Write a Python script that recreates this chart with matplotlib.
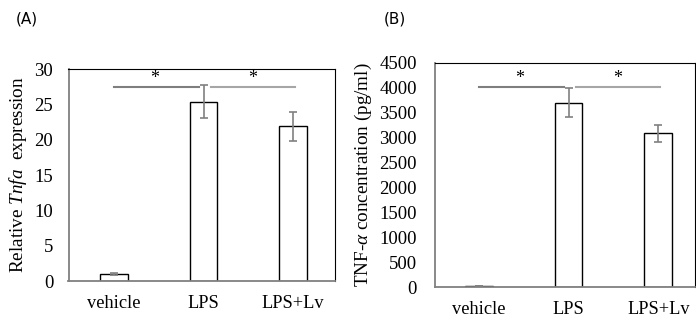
import matplotlib
matplotlib.use('Agg')
import matplotlib.pyplot as plt

plt.rcParams['font.family'] = 'Liberation Serif'
plt.rcParams['mathtext.fontset'] = 'custom'
plt.rcParams['mathtext.rm'] = 'Liberation Serif'
plt.rcParams['mathtext.it'] = 'Liberation Serif:italic'

# data
groups = ['vehicle', 'LPS', 'LPS+Lv']
tnfa_rel = [1.0, 25.4, 21.9]
tnfa_rel_err = [0.1, 2.3, 2.05]
tnf_conc = [20, 3700, 3080]
tnf_conc_err = [5, 285, 165]
sig_a = 27.45
sig_b = 4010

fig = plt.figure(figsize=(6.96, 3.2), dpi=100)

def draw_panel(ax, vals, errs, sig_y, ymax, step, ylabel, xlim, pad):
    x = range(len(groups))
    ax.bar(x, vals, width=0.31, color='white', edgecolor='black', linewidth=1.0, zorder=2)
    ax.errorbar(x, vals, yerr=errs, fmt='none', ecolor='#808080', elinewidth=1.2,
                capsize=3, capthick=1.2, zorder=3)
    ax.set_xlim(*xlim)
    ax.set_ylim(0, ymax)
    ax.set_yticks(range(0, ymax + 1, step))
    ax.set_xticks(list(x))
    ax.set_xticklabels(groups)
    ax.tick_params(axis='y', length=0, pad=pad, labelsize=13.5)
    ax.tick_params(axis='x', length=0, pad=10, labelsize=13.2)
    ax.set_ylabel(ylabel, fontsize=13.8, labelpad=4)
    for s in ['top', 'right']:
        ax.spines[s].set_color('black')
    for s in ['left', 'bottom']:
        ax.spines[s].set_color('#808080')
        ax.spines[s].set_linewidth(1.3)
    # significance lines
    ax.plot([0, 0.95], [sig_y, sig_y], color='#7f7f7f', lw=1.5, zorder=1)
    ax.plot([1.08, 2.02], [sig_y, sig_y], color='#a6a6a6', lw=1.5, zorder=1)
    ax.text(0.45, sig_y, '*', ha='center', va='bottom', fontsize=13)
    ax.text(1.55, sig_y, '*', ha='center', va='bottom', fontsize=13)

ax1 = fig.add_axes([68.5 / 696, 1 - 281 / 320, (335 - 68.5) / 696, (281 - 69) / 320])
draw_panel(ax1, tnfa_rel, tnfa_rel_err, sig_a, 30, 5,
           r'Relative $\mathit{Tnfa}$  expression', (-0.51, 2.47), 11)

ax2 = fig.add_axes([435 / 696, 1 - 287 / 320, (695 - 435) / 696, (287 - 62.7) / 320])
draw_panel(ax2, tnf_conc, tnf_conc_err, sig_b, 4500, 500,
           r'TNF-$\alpha$ concentration (pg/ml)', (-0.49, 2.41), 13)

fig.text(16 / 696, 1 - 19 / 320, '(A)', family='DejaVu Sans', fontsize=11, va='center')
fig.text(384 / 696, 1 - 19 / 320, '(B)', family='DejaVu Sans', fontsize=11, va='center')

fig.savefig('out.png', dpi=100)
